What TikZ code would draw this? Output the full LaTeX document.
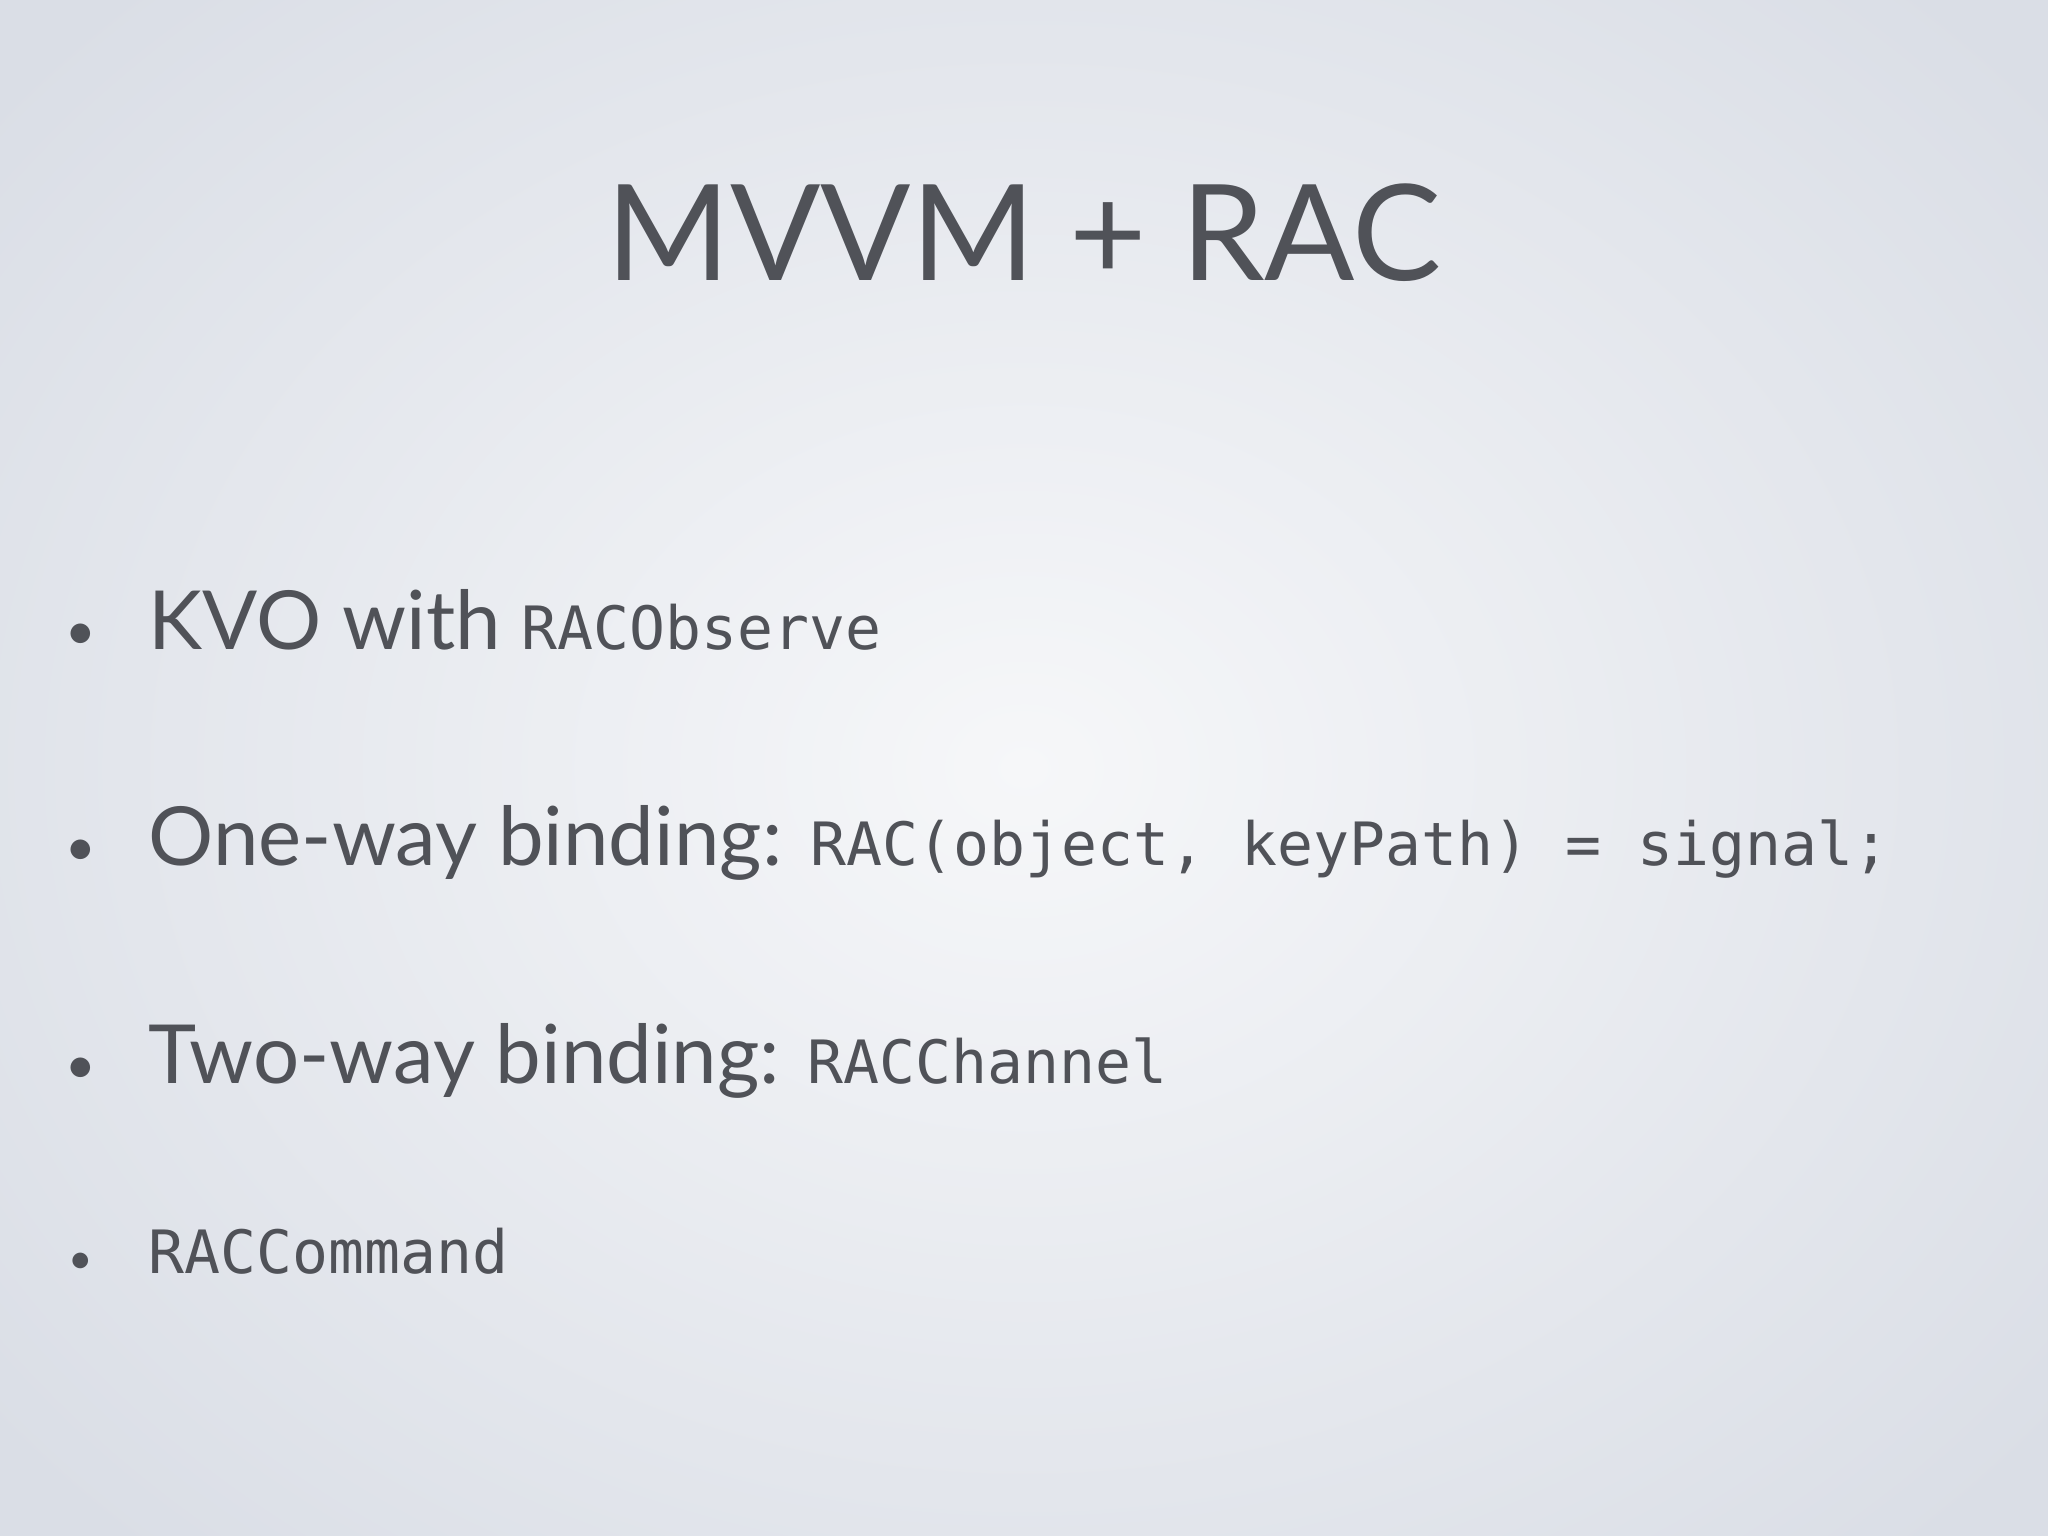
\documentclass[tikz,border=0pt]{standalone}
\usepackage{fontspec}
\setmainfont{Lato}
\setmonofont{DejaVu Sans Mono}
\definecolor{txt}{HTML}{505258}
\newcommand{\codefont}{\fontsize{17}{20}\selectfont\ttfamily}
\begin{document}
\begin{tikzpicture}[x=1cm,y=1cm,
  body/.style={anchor=base west,inner sep=0pt,text=txt,font=\fontsize{23.2}{28}\selectfont},
  bul/.style={anchor=base,inner sep=0pt,text=txt,font=\fontsize{15}{18}\selectfont}]
\useasboundingbox (0,0) rectangle (20.48,-15.36);
\shade[outer color={rgb,255:red,218;green,222;blue,230},inner color={rgb,255:red,246;green,247;blue,249}] (-3,3) rectangle (23.48,-18.36);
\node[anchor=base,inner sep=0pt,text=txt,font=\fontsize{38}{44}\selectfont] (title) at (10.24,-2.81) {MVVM + RAC};
\node[bul] (b1) at (0.81,-6.49) {•};
\node[body] (t1) at (1.48,-6.49) {KVO with {\codefont RACObserve}};
\node[bul] (b2) at (0.81,-8.66) {•};
\node[body] (t2) at (1.48,-8.66) {One-way binding: {\codefont RAC(object, keyPath) = signal;}};
\node[bul] (b3) at (0.81,-10.84) {•};
\node[body] (t3) at (1.48,-10.84) {Two-way binding: {\codefont RACChannel}};
\node[bul] (b4) at (0.81,-12.73) {\fontsize{12}{14}\selectfont•};
\node[body] (t4) at (1.48,-12.73) {\codefont RACCommand};
\end{tikzpicture}
\end{document}
